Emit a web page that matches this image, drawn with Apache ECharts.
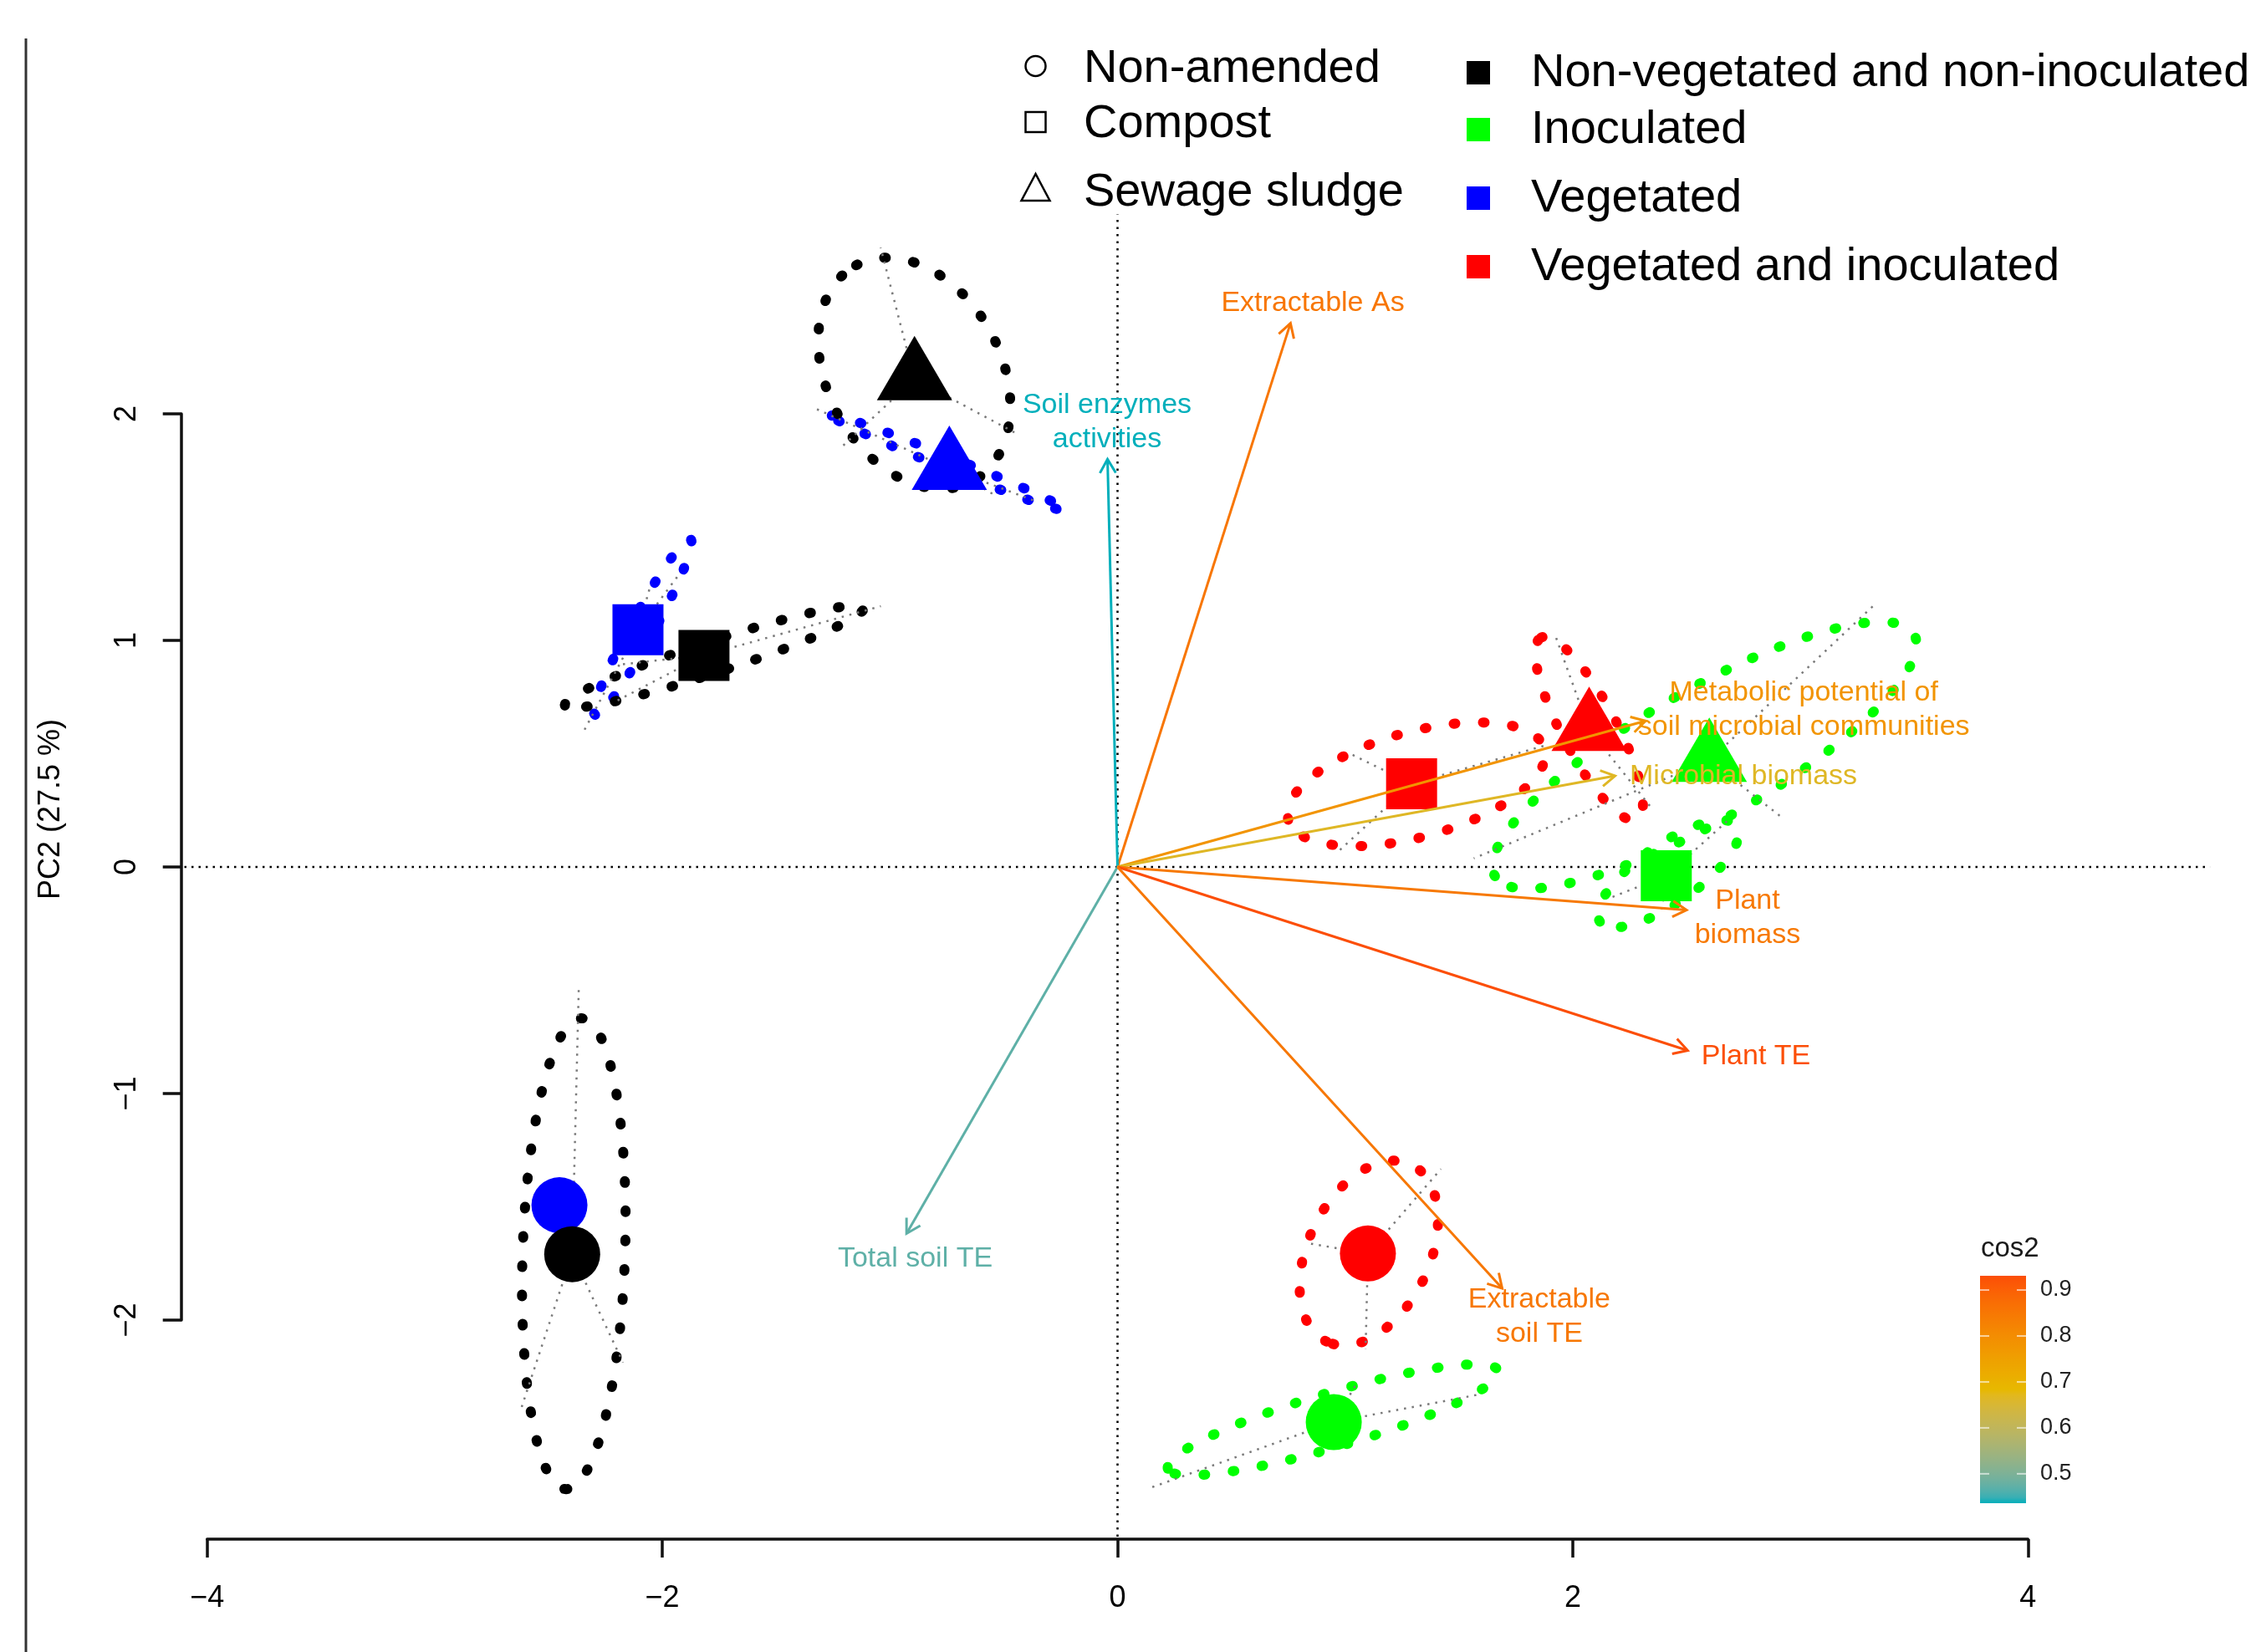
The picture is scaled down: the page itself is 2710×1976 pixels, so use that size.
<!DOCTYPE html>
<html>
<head>
<meta charset="utf-8">
<script src="https://cdn.jsdelivr.net/npm/echarts@6/dist/echarts.min.js"></script>
<style>
html,body{margin:0;padding:0;background:#fff;}
#c{width:2710px;height:1976px;}
</style>
</head>
<body>
<div id="c"></div>
<script>
// ---------------- DATA ----------------
const amendments = ['Non-amended', 'Compost', 'Sewage sludge'];
const treatments = ['Non-vegetated and non-inoculated', 'Inoculated', 'Vegetated', 'Vegetated and inoculated'];

// one entry per group (amendment x treatment)
const groupAmend = [0, 0, 0, 0, 1, 1, 1, 1, 2, 2, 2, 2];
const groupTreat = [2, 1, 3, 0, 2, 1, 3, 0, 2, 1, 3, 0];
const centroidX = [-2.452, 0.950, 1.100, -2.396, -2.107, 2.411, 1.292, -1.817, -0.739, 2.600, 2.072, -0.892];
const centroidY = [-1.493, -2.450, -1.706, -1.709, 1.047, -0.039, 0.367, 0.934, 1.758, 0.470, 0.606, 2.154];
const ellipseCX = [-2.430, 0.947, 1.104, -2.389, -2.086, 2.420, 1.313, -1.772, -0.741, 2.579, 2.072, -0.893];
const ellipseCY = [-1.450, -2.440, -1.704, -1.707, 1.059, -0.030, 0.365, 0.928, 1.783, 0.493, 0.611, 2.179];
const ellipseA = [0.090, 0.757, 0.431, 1.035, 0.439, 0.367, 0.584, 0.690, 0.555, 1.063, 0.452, 0.539];
const ellipseB = [0.012, 0.120, 0.268, 0.226, 0.052, 0.130, 0.232, 0.070, 0.027, 0.287, 0.120, 0.383];
const ellipseAngle = [66, 16.5, 64.5, 88.1, 61.5, 35, 15.5, 18.1, -22, 30, -62.1, -61.7];
const replicateX = [
  [-2.40, -2.50, -2.456], [0.148, 1.580, 1.054], [0.827, 1.421, 1.090], [-2.367, -2.624, -2.173],
  [-1.92, -2.35, -2.05], [2.155, 2.687, 2.391], [1.024, 0.964, 1.888], [-1.040, -2.212, -2.191],
  [-1.322, -0.361, -0.534], [3.319, 1.565, 2.916], [1.919, 2.352, 1.945], [-1.041, -1.212, -0.440]
];
const replicateY = [
  [-1.40, -1.58, -1.499], [-2.739, -2.330, -2.274], [-1.659, -1.333, -2.127], [-0.529, -2.402, -2.187],
  [1.30, 0.59, 1.25], [-0.140, 0.210, -0.187], [0.499, 0.063, 0.539], [1.151, 0.727, 0.893],
  [2.021, 1.615, 1.638], [1.151, 0.038, 0.221], [1.034, 0.253, 0.531], [2.734, 1.854, 1.911]
];

// variables (arrows)
const varLabels = ['Extractable As', 'Soil enzymes\nactivities', 'Total soil TE',
  'Metabolic potential of\nsoil microbial communities', 'Microbial biomass',
  'Plant\nbiomass', 'Plant TE', 'Extractable\nsoil TE'];
const varX = [0.760, -0.044, -0.927, 2.320, 2.186, 2.500, 2.505, 1.690];
const varY = [2.400, 1.800, -1.618, 0.645, 0.402, -0.190, -0.810, -1.860];
const varCos2 = [0.853, 0.436, 0.471, 0.780, 0.665, 0.846, 0.931, 0.850];
const varLabelX = [0.858, -0.046, -0.889, 3.015, 2.750, 2.768, 2.805, 1.853];
const varLabelY = [2.488, 1.963, -1.731, 0.692, 0.400, -0.225, -0.838, -1.986];

const xTicks = [-4, -2, 0, 2, 4];
const yTicks = [-2, -1, 0, 1, 2];
const cos2Ticks = [0.5, 0.6, 0.7, 0.8, 0.9];
const zeroLineX = [-4.10, 4.80];
const zeroLineY = [-2.956, 2.88];
const yAxisTitle = 'PC2 (27.5 %)';
const colorbarTitle = 'cos2';

// ---------------- STYLE ----------------
const FONT = "'Liberation Sans', Arial, Helvetica, sans-serif";
const treatmentColors = ['#000000', '#00FF00', '#0000FF', '#FF0000'];
const markerSymbol = ['circle', 'rect', 'triangle'];
const markerSize = [67, 61, [90, 77]];
const markerOffset = [[0, 0], [0, 0], [0, -13]];
const gradientCols = ['#00AFBB', '#E7B800', '#FC4E07'];

// Lab interpolation (like ggplot's gradientn)
function hex2rgb(h) { return [parseInt(h.slice(1, 3), 16), parseInt(h.slice(3, 5), 16), parseInt(h.slice(5, 7), 16)]; }
function s2l(c) { c /= 255; return c <= 0.04045 ? c / 12.92 : Math.pow((c + 0.055) / 1.055, 2.4); }
function l2s(c) { const v = c <= 0.0031308 ? 12.92 * c : 1.055 * Math.pow(c, 1 / 2.4) - 0.055; return Math.round(Math.max(0, Math.min(1, v)) * 255); }
function rgb2lab(rgb) {
  const r = s2l(rgb[0]), g = s2l(rgb[1]), b = s2l(rgb[2]);
  const X = (0.4124564 * r + 0.3575761 * g + 0.1804375 * b) / 0.95047;
  const Y = (0.2126729 * r + 0.7151522 * g + 0.0721750 * b);
  const Z = (0.0193339 * r + 0.1191920 * g + 0.9503041 * b) / 1.08883;
  const f = t => t > 0.008856 ? Math.cbrt(t) : 7.787 * t + 16 / 116;
  return [116 * f(Y) - 16, 500 * (f(X) - f(Y)), 200 * (f(Y) - f(Z))];
}
function lab2hex(lab) {
  const fy = (lab[0] + 16) / 116, fx = fy + lab[1] / 500, fz = fy - lab[2] / 200;
  const fi = t => t > 0.206893 ? t * t * t : (t - 16 / 116) / 7.787;
  const X = fi(fx) * 0.95047, Y = fi(fy), Z = fi(fz) * 1.08883;
  const r = 3.2404542 * X - 1.5371385 * Y - 0.4985314 * Z;
  const g = -0.9692660 * X + 1.8760108 * Y + 0.0415560 * Z;
  const b = 0.0556434 * X - 0.2040259 * Y + 1.0572252 * Z;
  return 'rgb(' + l2s(r) + ',' + l2s(g) + ',' + l2s(b) + ')';
}
const labCols = gradientCols.map(h => rgb2lab(hex2rgb(h)));
const cMin = Math.min.apply(null, varCos2), cMax = Math.max.apply(null, varCos2);
function gradAt(t) {
  t = Math.max(0, Math.min(1, t));
  const n = labCols.length - 1;
  const k = Math.min(n - 1, Math.floor(t * n));
  const u = t * n - k;
  const a = labCols[k], b = labCols[k + 1];
  return lab2hex([a[0] + (b[0] - a[0]) * u, a[1] + (b[1] - a[1]) * u, a[2] + (b[2] - a[2]) * u]);
}
function cos2Color(v) { return gradAt((v - cMin) / (cMax - cMin)); }

const minusFmt = v => String(v).replace('-', '\u2212');

// ---------------- GRAPHICS (legends, colorbar, titles) ----------------
const graphics = [];
// left frame fragment
graphics.push({ type: 'line', shape: { x1: 31, y1: 46, x2: 31, y2: 1976 }, style: { stroke: '#333', lineWidth: 3 }, silent: true });
// y axis title
graphics.push({ type: 'text', x: 61, y: 968, rotation: Math.PI / 2,
  style: { text: yAxisTitle, fill: '#000', fontSize: 36, fontFamily: FONT, align: 'center', verticalAlign: 'middle', textAlign: 'center', textVerticalAlign: 'middle' } });

// amendment legend (open symbols)
const amendSymY = [79, 146, 227];
const amendTextY = [83, 149, 231];
amendments.forEach((name, i) => {
  const cy = amendSymY[i], cx = 1238.5;
  if (i === 0) graphics.push({ type: 'circle', shape: { cx: cx, cy: cy, r: 12 }, style: { fill: 'none', stroke: '#000', lineWidth: 2.5 } });
  if (i === 1) graphics.push({ type: 'rect', shape: { x: cx - 12, y: cy - 12, width: 24, height: 24 }, style: { fill: 'none', stroke: '#000', lineWidth: 2.5 } });
  if (i === 2) graphics.push({ type: 'polygon', shape: { points: [[cx, cy - 19], [cx - 17, cy + 13], [cx + 17, cy + 13]] }, style: { fill: 'none', stroke: '#000', lineWidth: 2.5 } });
  graphics.push({ type: 'text', x: 1296, y: amendTextY[i],
    style: { text: name, fill: '#000', fontSize: 56, fontFamily: FONT, align: 'left', verticalAlign: 'middle', textAlign: 'left', textVerticalAlign: 'middle' } });
});
// treatment legend (filled squares)
const treatSymY = [87, 155, 237, 319];
const treatTextY = [88, 156, 238, 320];
treatments.forEach((name, i) => {
  const cy = treatSymY[i];
  graphics.push({ type: 'rect', shape: { x: 1754, y: cy - 14, width: 28, height: 28 }, style: { fill: treatmentColors[i] } });
  graphics.push({ type: 'text', x: 1831, y: treatTextY[i],
    style: { text: name, fill: '#000', fontSize: 56, fontFamily: FONT, align: 'left', verticalAlign: 'middle', textAlign: 'left', textVerticalAlign: 'middle' } });
});

// cos2 colorbar
const cbX = 2368, cbY = 1526, cbW = 55, cbH = 272;
const stops = [];
for (let k = 0; k <= 40; k++) stops.push({ offset: k / 40, color: gradAt(k / 40) });
graphics.push({ type: 'rect', shape: { x: cbX, y: cbY, width: cbW, height: cbH },
  style: { fill: new echarts.graphic.LinearGradient(0, 1, 0, 0, stops) } });
graphics.push({ type: 'text', x: cbX + 1, y: 1494,
  style: { text: colorbarTitle, fill: '#1a1a1a', fontSize: 33, fontFamily: FONT, align: 'left', verticalAlign: 'middle', textAlign: 'left', textVerticalAlign: 'middle' } });
cos2Ticks.forEach(v => {
  const y = cbY + cbH - (v - cMin) / (cMax - cMin) * cbH;
  graphics.push({ type: 'line', shape: { x1: cbX, y1: y, x2: cbX + 11, y2: y }, style: { stroke: 'rgba(255,255,255,0.6)', lineWidth: 2 } });
  graphics.push({ type: 'line', shape: { x1: cbX + cbW - 11, y1: y, x2: cbX + cbW, y2: y }, style: { stroke: 'rgba(255,255,255,0.6)', lineWidth: 2 } });
  graphics.push({ type: 'text', x: cbX + 72, y: y,
    style: { text: v.toFixed(1), fill: '#222', fontSize: 27, fontFamily: FONT, align: 'left', verticalAlign: 'middle', textAlign: 'left', textVerticalAlign: 'middle' } });
});

// ---------------- SERIES ----------------
const starData = [];
groupAmend.forEach((a, g) => {
  for (let k = 0; k < replicateX[g].length; k++) starData.push([centroidX[g], centroidY[g], replicateX[g][k], replicateY[g][k]]);
});
const zeroLineData = [[zeroLineX[0], 0, zeroLineX[1], 0], [0, zeroLineY[0], 0, zeroLineY[1]]];

const series = [
  { type: 'custom', coordinateSystem: 'cartesian2d', clip: false, silent: true, z: 0,
    data: zeroLineData,
    renderItem: function (params, api) {
      const p = api.coord([api.value(0), api.value(1)]);
      const q = api.coord([api.value(2), api.value(3)]);
      return { type: 'line', shape: { x1: p[0], y1: p[1], x2: q[0], y2: q[1] },
        style: { stroke: '#000', lineWidth: 2.5, lineDash: [2.5, 6] } };
    } },
  { type: 'custom', coordinateSystem: 'cartesian2d', clip: false, silent: true, z: 2,
    data: groupAmend.map((a, g) => [ellipseCX[g], ellipseCY[g], ellipseA[g], ellipseB[g], ellipseAngle[g], groupTreat[g]]),
    renderItem: function (params, api) {
      const c = api.coord([api.value(0), api.value(1)]);
      const rx = api.size([api.value(2), 0])[0];
      const ry = api.size([0, api.value(3)])[1];
      return { type: 'ellipse', x: c[0], y: c[1], rotation: api.value(4) * Math.PI / 180,
        shape: { cx: 0, cy: 0, rx: rx, ry: ry },
        style: { fill: 'none', stroke: treatmentColors[api.value(5)], lineWidth: 12, lineDash: [2, 33], lineCap: 'round' } };
    } },
  { type: 'custom', coordinateSystem: 'cartesian2d', clip: false, silent: true, z: 3,
    data: starData,
    renderItem: function (params, api) {
      const p = api.coord([api.value(0), api.value(1)]);
      const q = api.coord([api.value(2), api.value(3)]);
      return { type: 'line', shape: { x1: p[0], y1: p[1], x2: q[0], y2: q[1] },
        style: { stroke: '#7a7a7a', lineWidth: 2.5, lineDash: [2.5, 7] } };
    } },
  { type: 'scatter', clip: false, silent: true, z: 4,
    data: groupAmend.map((a, g) => ({ value: [centroidX[g], centroidY[g]], symbol: markerSymbol[a], symbolSize: markerSize[a],
      symbolOffset: markerOffset[a], itemStyle: { color: treatmentColors[groupTreat[g]], opacity: 1 } })) },
  { type: 'custom', coordinateSystem: 'cartesian2d', clip: false, silent: true, z: 5,
    data: varX.map((x, i) => [x, varY[i], varCos2[i]]),
    renderItem: function (params, api) {
      const i = params.dataIndex;
      const o = api.coord([0, 0]);
      const t = api.coord([api.value(0), api.value(1)]);
      const col = cos2Color(api.value(2));
      const ang = Math.atan2(t[1] - o[1], t[0] - o[0]);
      const L = 19, sp = Math.PI / 6;
      const p1 = [t[0] - L * Math.cos(ang - sp), t[1] - L * Math.sin(ang - sp)];
      const p2 = [t[0] - L * Math.cos(ang + sp), t[1] - L * Math.sin(ang + sp)];
      const lp = api.coord([varLabelX[i], varLabelY[i]]);
      return { type: 'group', children: [
        { type: 'line', shape: { x1: o[0], y1: o[1], x2: t[0], y2: t[1] }, style: { stroke: col, lineWidth: 3 } },
        { type: 'polyline', shape: { points: [p1, t, p2] }, style: { stroke: col, lineWidth: 3, fill: 'none' } },
        { type: 'text', x: lp[0], y: lp[1], style: { text: varLabels[i], fill: col, fontSize: 34, fontFamily: FONT,
          align: 'center', verticalAlign: 'middle', textAlign: 'center', textVerticalAlign: 'middle', lineHeight: 41 } }
      ] };
    } }
];

const axisCommon = {
  type: 'value', splitLine: { show: false },
  axisLine: { show: true, onZero: false, lineStyle: { color: '#111', width: 3.5 } },
  axisTick: { show: true, length: 22, lineStyle: { color: '#111', width: 3.5 } },
};

const option = {
  animation: false,
  backgroundColor: '#fff',
  grid: { left: 247.7, right: 284.7, top: 495, bottom: 397, containLabel: false, outerBoundsMode: 'none' },
  xAxis: Object.assign({}, axisCommon, {
    min: xTicks[0], max: xTicks[xTicks.length - 1], interval: 2, offset: 262,
    axisLabel: { show: true, fontSize: 36, fontFamily: FONT, color: '#000', margin: 53, formatter: minusFmt, showMinLabel: true, showMaxLabel: true }
  }),
  yAxis: Object.assign({}, axisCommon, {
    min: yTicks[0], max: yTicks[yTicks.length - 1], interval: 1, offset: 31,
    axisLabel: { show: true, fontSize: 36, fontFamily: FONT, color: '#000', margin: 47, rotate: 90, formatter: minusFmt, showMinLabel: true, showMaxLabel: true }
  }),
  graphic: { elements: graphics },
  series: series
};

const chart = echarts.init(document.getElementById('c'));
chart.setOption(option);
</script>
</body>
</html>
